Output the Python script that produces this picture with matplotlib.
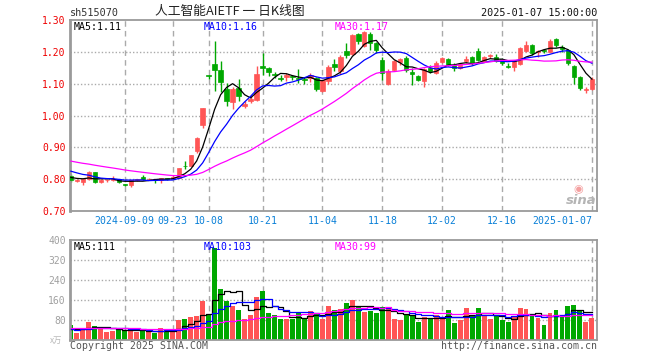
import matplotlib.pyplot as plt
import numpy as np
import pandas as pd

# daily candles 2024-08-27 .. 2025-01-07 (88 trading days)
opens = [0.809, 0.795, 0.790, 0.800, 0.821, 0.790, 0.796, 0.798, 0.801, 0.784,
         0.781, 0.797, 0.807, 0.799, 0.798, 0.798, 0.803, 0.804, 0.805, 0.842,
         0.842, 0.888, 0.969, 1.126, 1.162, 1.144, 1.083, 1.042, 1.086, 1.031,
         1.045, 1.050, 1.155, 1.150, 1.131, 1.119, 1.120, 1.124, 1.118, 1.114,
         1.117, 1.118, 1.078, 1.107, 1.161, 1.140, 1.202, 1.192, 1.255, 1.218,
         1.257, 1.228, 1.174, 1.100, 1.144, 1.168, 1.180, 1.138, 1.123, 1.108,
         1.150, 1.135, 1.168, 1.178, 1.158, 1.150, 1.170, 1.185, 1.203, 1.172,
         1.187, 1.185, 1.178, 1.157, 1.151, 1.161, 1.203, 1.222, 1.200, 1.206,
         1.201, 1.240, 1.215, 1.207, 1.157, 1.120, 1.080, 1.084]
closes = [0.797, 0.797, 0.800, 0.821, 0.790, 0.798, 0.797, 0.800, 0.790, 0.782,
          0.797, 0.800, 0.799, 0.801, 0.797, 0.803, 0.800, 0.806, 0.835, 0.840,
          0.875, 0.930, 1.024, 1.124, 1.144, 1.104, 1.045, 1.083, 1.060, 1.035,
          1.053, 1.131, 1.150, 1.138, 1.126, 1.116, 1.126, 1.120, 1.116, 1.112,
          1.127, 1.082, 1.110, 1.153, 1.151, 1.183, 1.189, 1.252, 1.234, 1.261,
          1.228, 1.205, 1.133, 1.140, 1.170, 1.178, 1.144, 1.130, 1.112, 1.147,
          1.140, 1.165, 1.180, 1.160, 1.150, 1.162, 1.177, 1.165, 1.175, 1.185,
          1.190, 1.170, 1.165, 1.151, 1.170, 1.211, 1.222, 1.195, 1.203, 1.203,
          1.234, 1.222, 1.210, 1.166, 1.122, 1.085, 1.082, 1.116]
highs = [0.815, 0.800, 0.802, 0.826, 0.822, 0.800, 0.800, 0.810, 0.802, 0.786,
         0.798, 0.802, 0.812, 0.803, 0.800, 0.805, 0.804, 0.812, 0.836, 0.858,
         0.877, 0.931, 1.024, 1.126, 1.235, 1.171, 1.103, 1.090, 1.114, 1.045,
         1.060, 1.155, 1.195, 1.152, 1.137, 1.127, 1.135, 1.128, 1.145, 1.120,
         1.135, 1.120, 1.113, 1.160, 1.178, 1.190, 1.227, 1.257, 1.260, 1.265,
         1.262, 1.232, 1.185, 1.145, 1.175, 1.182, 1.187, 1.148, 1.126, 1.150,
         1.158, 1.170, 1.183, 1.180, 1.165, 1.165, 1.188, 1.188, 1.212, 1.187,
         1.193, 1.192, 1.180, 1.165, 1.175, 1.215, 1.235, 1.226, 1.206, 1.210,
         1.240, 1.245, 1.220, 1.208, 1.160, 1.125, 1.090, 1.120]
lows = [0.792, 0.790, 0.781, 0.798, 0.788, 0.788, 0.790, 0.795, 0.788, 0.778,
        0.776, 0.795, 0.797, 0.796, 0.789, 0.789, 0.798, 0.800, 0.803, 0.833,
        0.840, 0.882, 0.960, 1.115, 1.076, 1.075, 1.030, 1.020, 1.046, 1.025,
        1.040, 1.045, 1.128, 1.125, 1.119, 1.108, 1.108, 1.112, 1.103, 1.100,
        1.105, 1.077, 1.075, 1.100, 1.140, 1.130, 1.180, 1.190, 1.225, 1.215,
        1.205, 1.195, 1.112, 1.095, 1.140, 1.160, 1.138, 1.097, 1.108, 1.090,
        1.135, 1.130, 1.165, 1.155, 1.140, 1.145, 1.165, 1.160, 1.170, 1.168,
        1.180, 1.168, 1.160, 1.148, 1.140, 1.158, 1.200, 1.190, 1.185, 1.197,
        1.198, 1.215, 1.200, 1.160, 1.100, 1.080, 1.070, 1.080]
# volume, x10k
volumes = [60, 29, 47, 72, 56, 47, 33, 37, 45, 36, 43, 33, 43, 35, 28, 47, 37, 37,
           80, 84, 91, 96, 157, 99, 367, 204, 157, 136, 120, 83, 100, 173, 196,
           109, 100, 83, 83, 85, 111, 83, 117, 104, 85, 136, 120, 124, 149, 160,
           136, 113, 117, 109, 133, 127, 85, 80, 100, 100, 73, 91, 85, 99, 87,
           120, 69, 80, 130, 100, 130, 96, 85, 96, 81, 73, 91, 130, 124, 100, 88,
           62, 108, 122, 95, 135, 140, 118, 72, 90]
# closes / volumes of the 29 days before the window (only feed the moving averages)
pre_close = [0.905, 0.900, 0.898, 0.893, 0.890, 0.885, 0.882, 0.880, 0.878, 0.875,
             0.872, 0.870, 0.868, 0.865, 0.862, 0.860, 0.858, 0.842, 0.838, 0.832,
             0.850, 0.848, 0.845, 0.842, 0.838, 0.812, 0.806, 0.808, 0.804]
pre_vol = [55, 60, 52, 48, 58, 62, 50, 47, 55, 53, 49, 57, 60, 52, 46, 54, 51, 56,
           48, 50, 45, 40, 38, 44, 42, 39, 41, 44, 37]

tick_idx = [9, 17, 23, 32, 42, 52, 62, 72, 87]
tick_labels = ["2024-09-09", "09-23", "10-08", "10-21", "11-04", "11-18",
               "12-02", "12-16", "2025-01-07"]
price_ticks = [0.70, 0.80, 0.90, 1.00, 1.10, 1.20, 1.30]
vol_ticks = [80, 160, 240, 320, 400]

RED = "#ff5555"
GREEN = "#00a800"
GRID = "#aaaaaa"
MONO = "DejaVu Sans Mono"
W, H = 660, 360

n = len(closes)
x = np.arange(n)
o = np.array(opens)
c = np.array(closes)
up = c >= o
colors = np.where(up, RED, GREEN)

all_close = pd.Series(pre_close + closes)
all_vol = pd.Series(pre_vol + volumes)
npre = len(pre_close)
ma = {k: all_close.rolling(k).mean().to_numpy()[npre:] for k in (5, 10, 30)}
vma = {k: all_vol.rolling(k).mean().to_numpy()[npre:] for k in (5, 10, 30)}

fig = plt.figure(figsize=(W / 100, H / 100), dpi=100)
ax = fig.add_axes([70 / W, 1 - 211 / H, 527 / W, 191 / H])
axv = fig.add_axes([70 / W, 1 - 340 / H, 527 / W, 100 / H])

for a in (ax, axv):
    a.set_xlim(-0.15, n - 0.15)
    for s in a.spines.values():
        s.set_color("#9a9a9a")
        s.set_linewidth(1.3)
    a.spines["left"].set_linewidth(2)
    a.tick_params(length=0)
    for t in tick_idx:
        a.axvline(t, color=GRID, lw=1, ls=(0, (4, 3)), zorder=0)
    a.set_xticks([])

# price panel
ax.set_ylim(0.70, 1.30)
for p in price_ticks[1:-1]:
    ax.axhline(p, color=GRID, lw=1, ls=(0, (1, 1.5)), zorder=0)
ax.set_yticks(price_ticks)
ax.set_yticklabels(["%.2f" % p for p in price_ticks], color="#ee0000",
                   family=MONO, fontsize=7)
ax.tick_params(axis="y", pad=3)

ax.vlines(x, lows, highs, colors=colors, lw=1, zorder=2)
body = np.maximum(np.abs(c - o), 0.0015)
ax.bar(x, body, bottom=np.minimum(o, c), width=0.72, color=colors,
       edgecolor=colors, lw=0.5, zorder=3)
ax.plot(x, ma[5], color="black", lw=0.9, zorder=4)
ax.plot(x, ma[10], color="#0000ff", lw=0.9, zorder=4)
ax.plot(x, ma[30], color="#ff00ff", lw=0.9, zorder=4)

for i, lab in zip(tick_idx, tick_labels):
    ha = "right" if i == tick_idx[-1] else "center"
    ax.text(i, -0.025, lab, transform=ax.get_xaxis_transform(), ha=ha, va="top",
            color="#0a80d8", family=MONO, fontsize=7.1)

# volume panel
axv.set_ylim(0, 400)
for v in vol_ticks[:-1]:
    axv.axhline(v, color=GRID, lw=1, ls=(0, (1, 1.5)), zorder=0)
axv.set_yticks(vol_ticks)
axv.set_yticklabels([str(v) for v in vol_ticks], color="#a0a0a0",
                    family=MONO, fontsize=7)
axv.tick_params(axis="y", pad=3)
axv.bar(x, volumes, width=0.82, color=colors, zorder=2)
axv.plot(x, vma[5], color="black", lw=0.9, drawstyle="steps-mid", zorder=4)
axv.plot(x, vma[10], color="#0000ff", lw=0.9, drawstyle="steps-mid", zorder=4)
axv.plot(x, vma[30], color="#ff00ff", lw=0.9, drawstyle="steps-mid", zorder=4)


def ftext(px, py, s, **kw):
    fig.text(px / W, 1 - py / H, s, **kw)


# header
ftext(70, 18, "sh515070", ha="left", va="bottom", color="#333333",
      family=MONO, fontsize=7.3)
ftext(230, 18.5, "人工智能AIETF 一 日K线图", ha="center", va="bottom",
      color="#222222", family=["Noto Sans CJK SC", "DejaVu Sans"], fontsize=9.2)
ftext(597, 18, "2025-01-07 15:00:00", ha="right", va="bottom", color="#111111",
      family=MONO, fontsize=7.3)

# MA legends
ftext(74, 22, "MA5:%.2f" % ma[5][-1], ha="left", va="top", color="black",
      family=MONO, fontsize=7.1)
ftext(204, 22, "MA10:%.2f" % ma[10][-1], ha="left", va="top", color="#0000ff",
      family=MONO, fontsize=7.1)
ftext(335, 22, "MA30:%.2f" % ma[30][-1], ha="left", va="top", color="#ff00ff",
      family=MONO, fontsize=7.1)
ftext(74, 242, "MA5:%d" % round(vma[5][-1]), ha="left", va="top", color="black",
      family=MONO, fontsize=7.1)
ftext(204, 242, "MA10:%d" % round(vma[10][-1]), ha="left", va="top",
      color="#0000ff", family=MONO, fontsize=7.1)
ftext(335, 242, "MA30:%d" % round(vma[30][-1]), ha="left", va="top",
      color="#ff00ff", family=MONO, fontsize=7.1)

# footer
ftext(50, 340, "x万", ha="left", va="center", color="#b8b8b8",
      family=["Noto Sans CJK SC", "DejaVu Sans"], fontsize=6)
ftext(70, 351, "Copyright 2025 SINA.COM", ha="left", va="bottom",
      color="#555555", family=MONO, fontsize=7.1)
ftext(597, 351, "http://finance.sina.com.cn", ha="right", va="bottom",
      color="#555555", family=MONO, fontsize=7.1)

# sina watermark
ftext(581, 200, "sina", ha="center", va="center", color="#b5b5b5",
      fontsize=9.5, fontweight="bold", style="italic")
ftext(578, 189, "◉", ha="center", va="center", color="#f4a0a0", fontsize=8)

fig.savefig("out.png", dpi=100)
